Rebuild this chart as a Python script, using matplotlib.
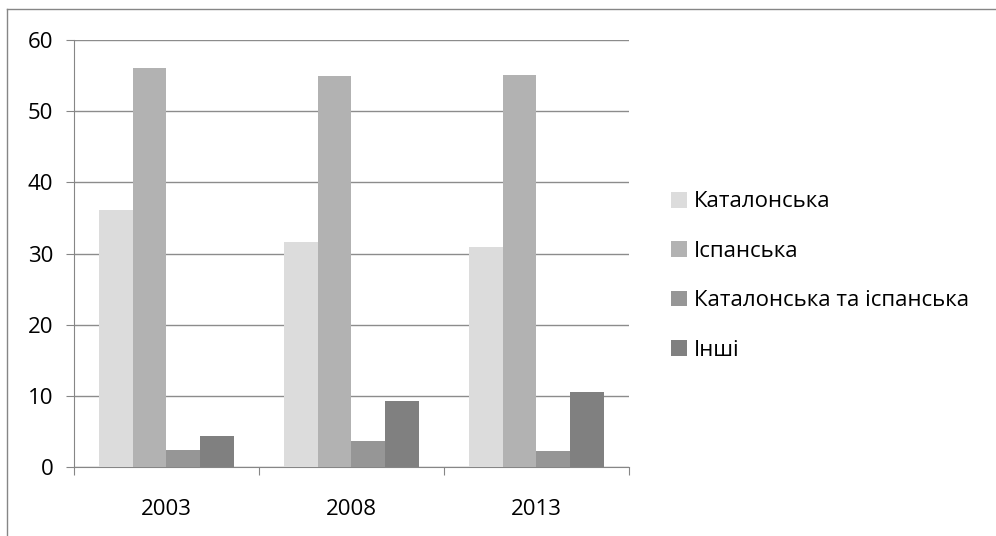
import numpy as np
import matplotlib
matplotlib.use("Agg")
from matplotlib import pyplot as plt
from matplotlib.lines import Line2D

plt.rcParams['font.family'] = ['Open Sans', 'DejaVu Sans']

# data
years = ['2003', '2008', '2013']
catalan = [36.1, 31.6, 30.9]
spanish = [56.1, 55.0, 55.1]
both = [2.4, 3.7, 2.3]
others = [4.4, 9.3, 10.5]
labels = ['Каталонська', 'Іспанська', 'Каталонська та іспанська', 'Інші']
colors = ['#dcdcdc', '#b2b2b2', '#969696', '#808080']

fig = plt.figure(figsize=(9.96, 5.36), dpi=100)
ax = fig.add_axes([0.0743, 0.1287, 0.5572, 0.7967])

x = np.arange(len(years))
w = 1 / 5.5
series = [catalan, spanish, both, others]
for i, (vals, lab, col) in enumerate(zip(series, labels, colors)):
    ax.bar(x + (i - 1.5) * w, vals, w, color=col, label=lab, zorder=3)

ax.set_xlim(-0.5, 2.5)
ax.set_ylim(0, 60)
ax.set_yticks(range(0, 61, 10))
ax.yaxis.grid(True, color='#8c8c8c', linewidth=1, zorder=0)

# category ticks sit between groups, labels in the middle
ax.set_xticks([-0.5, 0.5, 1.5, 2.5])
ax.set_xticklabels([])
ax.set_xticks(x, minor=True)
ax.set_xticklabels(years, minor=True)
ax.tick_params(axis='x', which='major', length=5.5, color='#868686', direction='out')
ax.tick_params(axis='x', which='minor', length=0, pad=23, labelsize=16)
ax.tick_params(axis='y', length=5.5, color='#868686', pad=9.5, labelsize=16)

for s in ['top', 'right']:
    ax.spines[s].set_visible(False)
for s in ['left', 'bottom']:
    ax.spines[s].set_color('#868686')

leg = fig.legend(loc='center left', bbox_to_anchor=(0.6647, 0.485), frameon=False,
                 fontsize=16, handlelength=0.72, handleheight=0.72,
                 handletextpad=0.3, labelspacing=1.28, borderaxespad=0)

# chart frame: only its top and left edges fall inside the picture
fig.add_artist(Line2D([0.007, 1.0], [0.983, 0.983], transform=fig.transFigure,
                      color='#868686', linewidth=1))
fig.add_artist(Line2D([0.007, 0.007], [0.0, 0.983], transform=fig.transFigure,
                      color='#868686', linewidth=1))

fig.savefig('out.png', dpi=100)
